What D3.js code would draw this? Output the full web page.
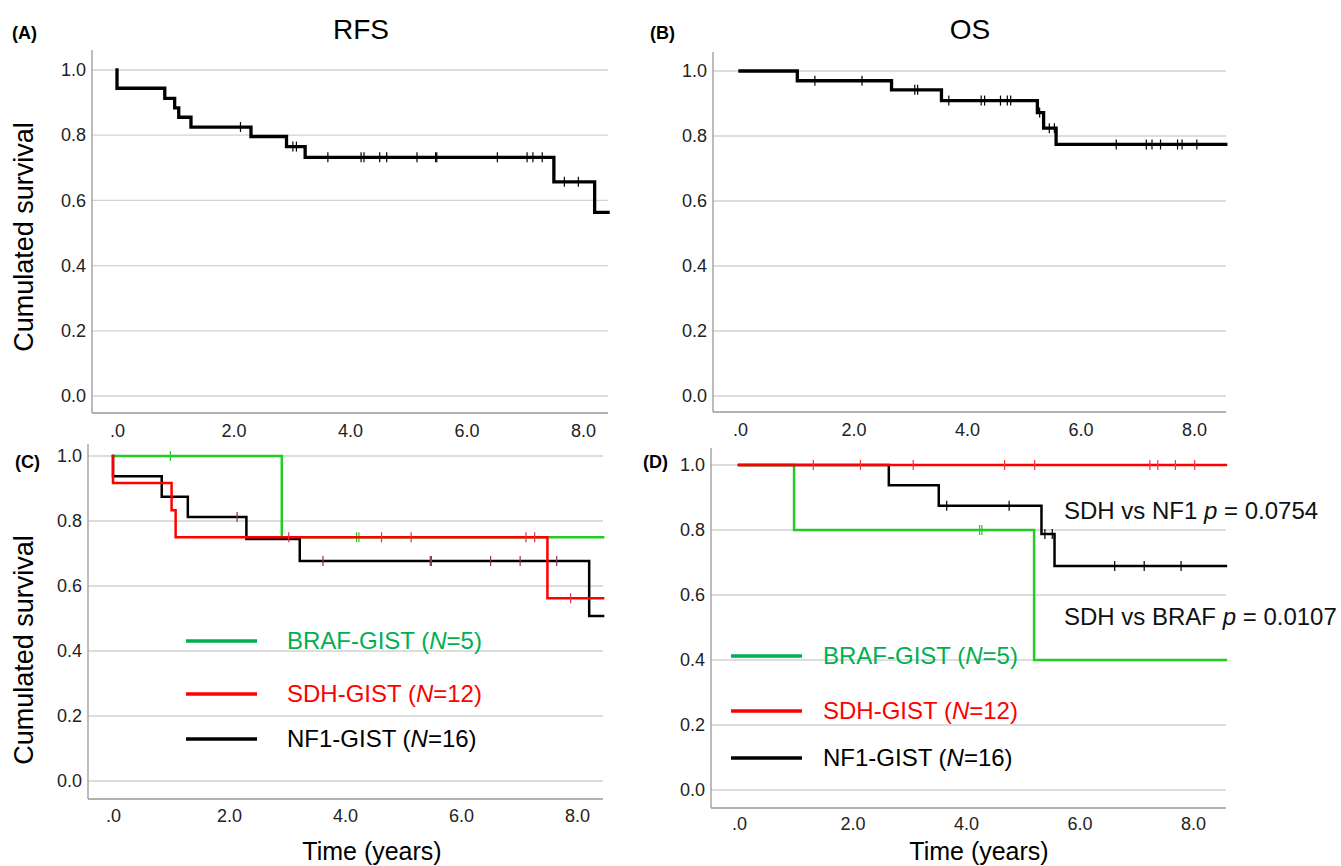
<!DOCTYPE html>
<html>
<head>
<meta charset="utf-8">
<script src="https://cdn.jsdelivr.net/npm/d3@7"></script>
<style>
  body { margin: 0; background: #fff; }
  text { font-family: "Liberation Sans", Arial, sans-serif; }
</style>
</head>
<body>
<div id="chart"></div>
<script>
// ---- data ----
var xTicks = [0, 2, 4, 6, 8];
var yTicks = [0, 0.2, 0.4, 0.6, 0.8, 1.0];

// (A) RFS, all patients
var rfsTimes  = [0, 0.82, 0.99, 1.06, 1.27, 2.30, 2.91, 3.23, 7.50, 8.20];
var rfsSurv   = [0.944, 0.913, 0.884, 0.855, 0.825, 0.796, 0.765, 0.732, 0.657, 0.563];
var rfsCensor = [2.12, 3.02, 3.08, 3.62, 4.19, 4.24, 4.51, 4.63, 5.15, 5.47, 5.49, 6.53, 7.04, 7.14, 7.30, 7.68, 7.92];
var rfsEnd = 8.43;

// (B) OS, all patients
var osTimes  = [1.01, 2.67, 3.55, 5.24, 5.35, 5.57];
var osSurv   = [0.970, 0.942, 0.909, 0.872, 0.824, 0.774];
var osCensor = [1.32, 2.15, 3.08, 3.13, 3.68, 4.25, 4.31, 4.59, 4.71, 4.77, 5.28, 5.45, 5.54, 6.63, 7.16, 7.26, 7.41, 7.71, 7.79, 8.05];
var osEnd = 8.56;

// (C) RFS by subtype
var rfsBrafTimes = [2.91];
var rfsBrafSurv  = [0.75];
var rfsBrafCensor = [0.99, 4.20, 4.24];
var rfsSdhTimes = [0, 1.01, 1.08, 7.49];
var rfsSdhSurv  = [0.917, 0.833, 0.75, 0.5625];
var rfsSdhCensor = [3.03, 4.63, 5.14, 7.12, 7.27, 7.89];
var rfsNf1Times = [0, 0.84, 1.29, 2.30, 3.22, 8.21];
var rfsNf1Surv  = [0.938, 0.875, 0.812, 0.745, 0.677, 0.508];
var rfsNf1Censor = [2.14, 3.62, 5.47, 5.49, 6.51, 7.02, 7.65];
var rfsGroupEnd = 8.45;

// (D) OS by subtype
var osBrafTimes = [0.97, 5.20];
var osBrafSurv  = [0.8, 0.4];
var osBrafCensor = [4.24, 4.28];
var osSdhTimes = [];
var osSdhSurv  = [];
var osSdhCensor = [1.31, 2.14, 3.07, 4.68, 5.21, 7.24, 7.38, 7.69, 8.03];
var osNf1Times = [2.64, 3.52, 5.33, 5.56];
var osNf1Surv  = [0.938, 0.875, 0.788, 0.689];
var osNf1Censor = [3.66, 4.76, 5.39, 5.52, 6.62, 7.14, 7.79];
var osGroupEnd = 8.58;

var groupNames = ["BRAF-GIST", "SDH-GIST", "NF1-GIST"];
var groupN = [5, 12, 16];
var pTexts = [["SDH vs NF1", "0.0754"], ["SDH vs BRAF", "0.0107"]];

// ---- setup ----
var svg = d3.select("#chart").append("svg")
  .attr("width", 1341)
  .attr("height", 866);

var green = "#22cc22", legendGreen = "#00b050", red = "#ff0000";

function survAt(times, surv, t) {
  var s = 1;
  times.forEach(function(tt, i) { if (tt <= t) s = surv[i]; });
  return s;
}

function drawPanel(p, curves) {
  var x = d3.scaleLinear().domain([0, 8]).range([p.x0, p.x8]);
  var y = d3.scaleLinear().domain([0, 1]).range([p.y0, p.y1]);
  var g = svg.append("g");

  // gridlines
  g.selectAll(".grid")
    .data(yTicks)
    .enter()
    .append("line")
    .attr("x1", p.axisX).attr("x2", p.right)
    .attr("y1", d => y(d)).attr("y2", d => y(d))
    .attr("stroke", "#d2d2d2")
    .attr("stroke-width", 1.3);

  // y axis
  var yAxis = g.append("g")
    .attr("transform", `translate(${p.axisX}, 0)`)
    .call(d3.axisLeft(y).tickValues(yTicks).tickSize(0).tickPadding(6).tickFormat(d3.format(".1f")));
  yAxis.select(".domain").remove();
  yAxis.attr("font-size", 18).attr("font-family", null);
  yAxis.selectAll("text").attr("fill", "#222");

  g.append("line")
    .attr("x1", p.axisX).attr("x2", p.axisX)
    .attr("y1", p.axisTop).attr("y2", p.xAxisY)
    .attr("stroke", "#999").attr("stroke-width", 1.3);

  // x axis
  var xAxis = g.append("g")
    .attr("transform", `translate(0, ${p.xAxisY})`)
    .call(d3.axisBottom(x).tickValues(xTicks).tickSize(0).tickPadding(p.tickPad)
      .tickFormat(d => d === 0 ? ".0" : d.toFixed(1)));
  xAxis.select(".domain").remove();
  xAxis.attr("font-size", 18).attr("font-family", null);
  xAxis.selectAll("text").attr("fill", "#222");

  g.append("line")
    .attr("x1", p.axisX).attr("x2", p.right)
    .attr("y1", p.xAxisY).attr("y2", p.xAxisY)
    .attr("stroke", "#999").attr("stroke-width", 1.3);

  var line = d3.line()
    .x(d => x(d[0]))
    .y(d => y(d[1]))
    .curve(d3.curveStepAfter);

  curves.forEach(function(c) {
    var pts = [[0, 1]].concat(c.times.map((t, i) => [t, c.surv[i]]));
    pts.push([c.end, pts[pts.length - 1][1]]);

    g.append("path")
      .datum(pts)
      .attr("d", line)
      .attr("fill", "none")
      .attr("stroke", c.color)
      .attr("stroke-width", p.lineWidth)
      .attr("stroke-linejoin", "miter")
      .attr("stroke-linecap", "square");

    g.selectAll(null)
      .data(c.censor)
      .enter()
      .append("line")
      .attr("x1", d => x(d)).attr("x2", d => x(d))
      .attr("y1", d => y(survAt(c.times, c.surv, d)) - 5)
      .attr("y2", d => y(survAt(c.times, c.surv, d)) + 5)
      .attr("stroke", c.tickColor)
      .attr("stroke-width", 1.2);
  });

  return { x: x, y: y, g: g };
}

// panel layouts
var panelA = { axisX: 92, x0: 117, x8: 583, right: 608, y1: 70, y0: 396, xAxisY: 413, axisTop: 50, lineWidth: 3.3, tickPad: 11 };
var panelB = { axisX: 713, x0: 740, x8: 1194, right: 1226, y1: 71, y0: 396, xAxisY: 412, axisTop: 52, lineWidth: 3.3, tickPad: 11 };
var panelC = { axisX: 88, x0: 113, x8: 577, right: 603, y1: 456, y0: 781, xAxisY: 799, axisTop: 444, lineWidth: 2.5, tickPad: 10 };
var panelD = { axisX: 711, x0: 739, x8: 1193, right: 1226, y1: 465, y0: 790, xAxisY: 808, axisTop: 448, lineWidth: 2.5, tickPad: 9 };

drawPanel(panelA, [
  { times: rfsTimes, surv: rfsSurv, censor: rfsCensor, end: rfsEnd, color: "#000", tickColor: "#000" }
]);
drawPanel(panelB, [
  { times: osTimes, surv: osSurv, censor: osCensor, end: osEnd, color: "#000", tickColor: "#000" }
]);
drawPanel(panelC, [
  { times: rfsBrafTimes, surv: rfsBrafSurv, censor: rfsBrafCensor, end: rfsGroupEnd, color: green, tickColor: green },
  { times: rfsNf1Times, surv: rfsNf1Surv, censor: rfsNf1Censor, end: rfsGroupEnd, color: "#000", tickColor: "#8a3060" },
  { times: rfsSdhTimes, surv: rfsSdhSurv, censor: rfsSdhCensor, end: rfsGroupEnd, color: red, tickColor: "#e0304f" }
]);
drawPanel(panelD, [
  { times: osBrafTimes, surv: osBrafSurv, censor: osBrafCensor, end: osGroupEnd, color: green, tickColor: green },
  { times: osNf1Times, surv: osNf1Surv, censor: osNf1Censor, end: osGroupEnd, color: "#000", tickColor: "#000" },
  { times: osSdhTimes, surv: osSdhSurv, censor: osSdhCensor, end: osGroupEnd, color: red, tickColor: "#ff3030" }
]);

// titles and panel letters
svg.append("text").attr("x", 361).attr("y", 39).attr("text-anchor", "middle")
  .attr("font-size", 28).text("RFS");
svg.append("text").attr("x", 970).attr("y", 39).attr("text-anchor", "middle")
  .attr("font-size", 28).text("OS");

var letters = [["(A)", 12, 39], ["(B)", 650, 39], ["(C)", 15, 468], ["(D)", 643, 468]];
letters.forEach(function(l) {
  svg.append("text").attr("x", l[1]).attr("y", l[2])
    .attr("font-size", 18).attr("font-weight", "bold").text(l[0]);
});

// y axis titles
[237, 650].forEach(function(cy) {
  svg.append("text")
    .attr("transform", `translate(33, ${cy}) rotate(-90)`)
    .attr("text-anchor", "middle")
    .attr("font-size", 27)
    .text("Cumulated survival");
});

// x axis titles
svg.append("text").attr("x", 372).attr("y", 860).attr("text-anchor", "middle")
  .attr("font-size", 25).text("Time (years)");
svg.append("text").attr("x", 979).attr("y", 860).attr("text-anchor", "middle")
  .attr("font-size", 25).text("Time (years)");

// legends
function drawLegend(lx, tx, rows) {
  var colors = [legendGreen, red, "#000"];
  rows.forEach(function(ry, i) {
    svg.append("line")
      .attr("x1", lx).attr("x2", lx + 71)
      .attr("y1", ry).attr("y2", ry)
      .attr("stroke", colors[i]).attr("stroke-width", 3.5);
    var t = svg.append("text")
      .attr("x", tx).attr("y", ry + 8)
      .attr("font-size", 24)
      .attr("fill", colors[i]);
    t.append("tspan").text(groupNames[i] + " (");
    t.append("tspan").attr("font-style", "italic").text("N");
    t.append("tspan").text("=" + groupN[i] + ")");
  });
}
drawLegend(186, 287, [641, 694, 739]);
drawLegend(731, 823, [656, 711, 758]);

// p-values
[519, 625].forEach(function(by, i) {
  var t = svg.append("text").attr("x", 1064).attr("y", by).attr("font-size", 24).attr("fill", "#111");
  t.append("tspan").text(pTexts[i][0] + " ");
  t.append("tspan").attr("font-style", "italic").text("p");
  t.append("tspan").text(" = " + pTexts[i][1]);
});
</script>
</body>
</html>
